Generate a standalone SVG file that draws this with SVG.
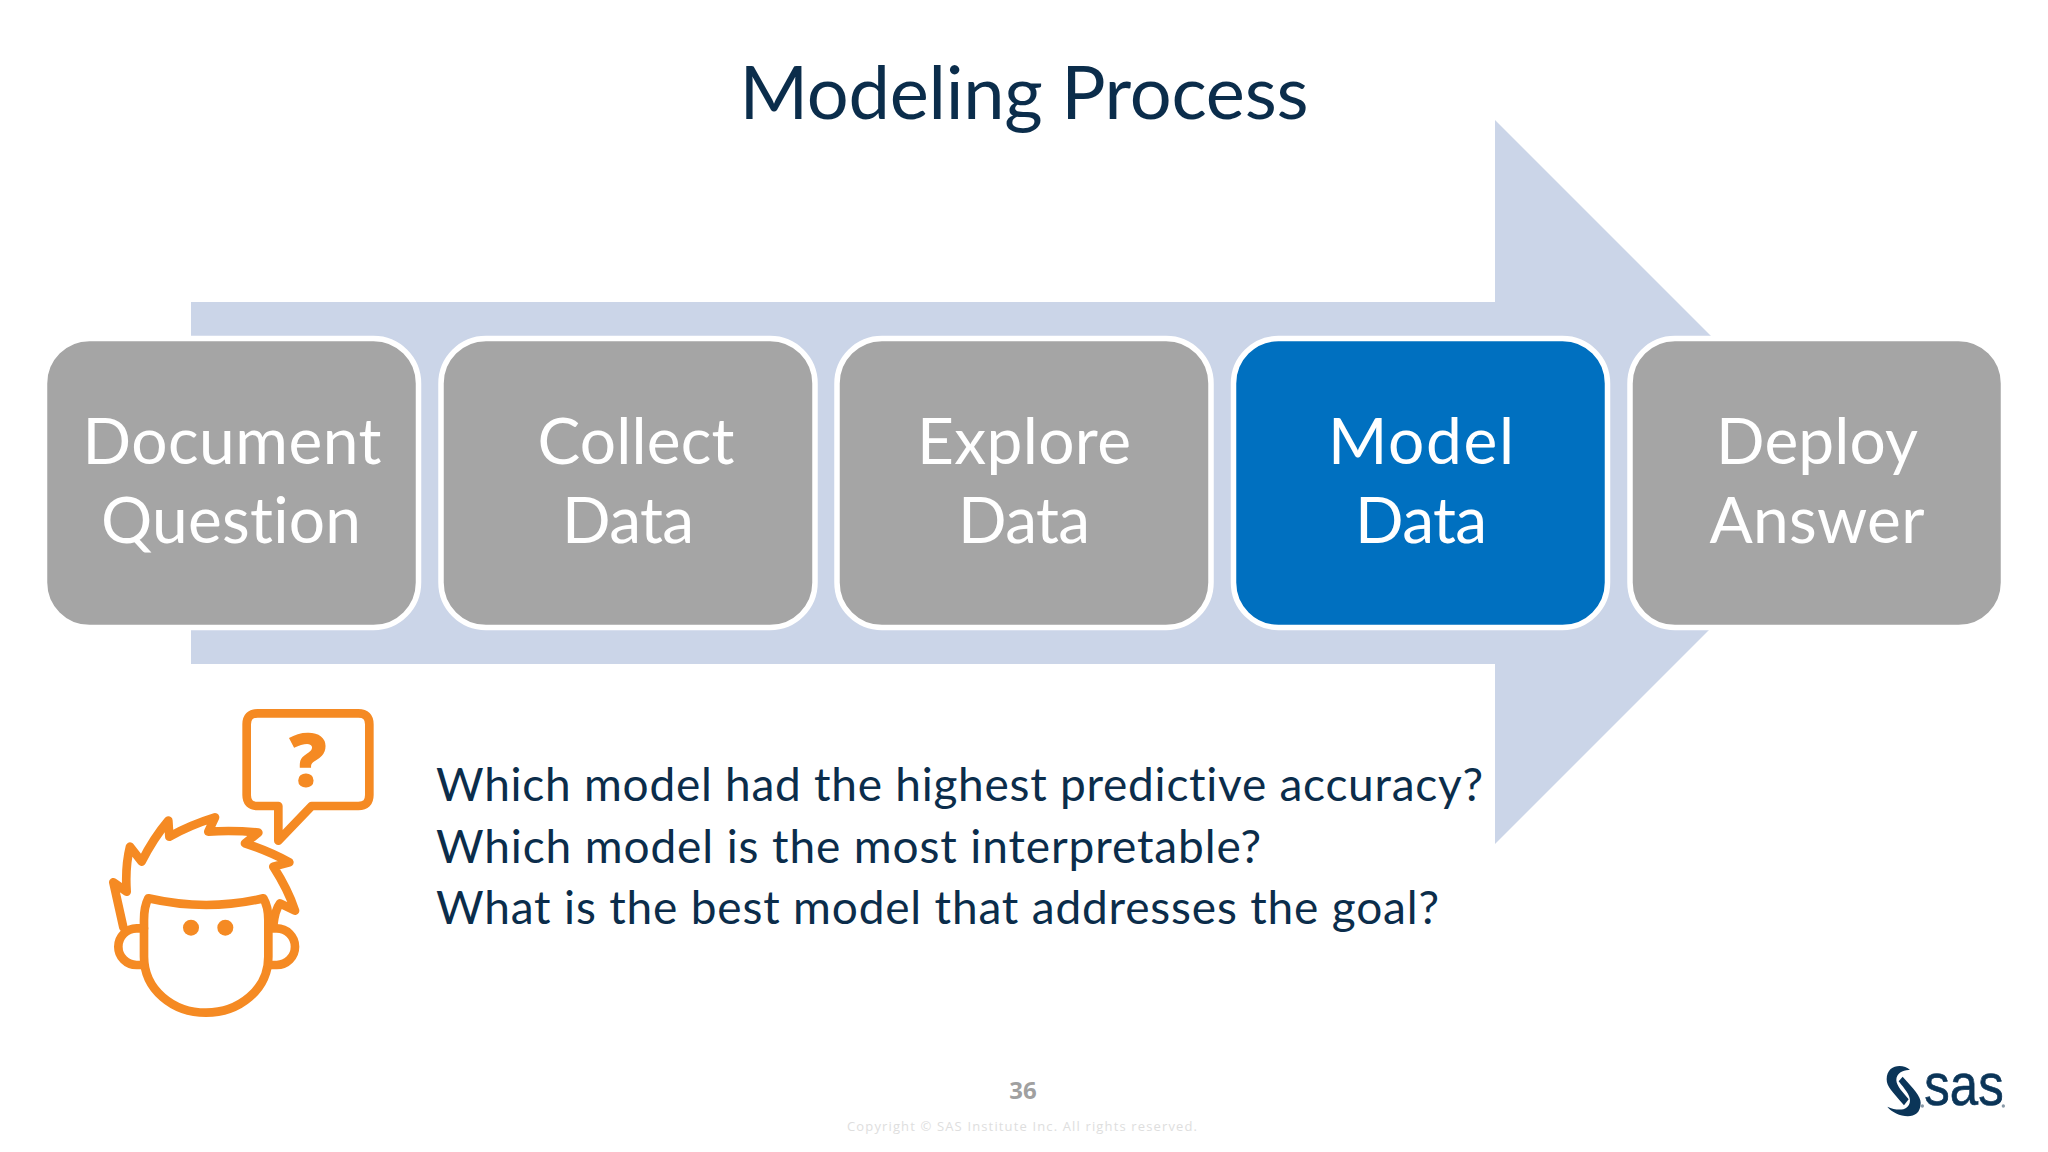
<svg xmlns="http://www.w3.org/2000/svg" width="2048" height="1152" viewBox="0 0 2048 1152">
<style>
text{font-variant-ligatures:none}
.box{fill:#a5a5a5;stroke:#fff;stroke-width:5.5}
.lab{font-family:"Lato","Open Sans",sans-serif;font-size:64px;fill:#fff;text-anchor:middle}
.q{font-family:"Lato","Open Sans",sans-serif;font-size:46px;fill:#0b2d4b}
.or{fill:none;stroke:#f58a23;stroke-width:26;stroke-linejoin:round;stroke-linecap:round}
</style>
<rect width="2048" height="1152" fill="#fff"/>
<text id="title" x="1024" y="119" textLength="569" style="font-family:Lato,'Open Sans',sans-serif;font-size:74px;fill:#0b2d4b;text-anchor:middle">Modeling Process</text>
<g id="connectors"><polygon points="191,302 1495,302 1495,120 1857,482 1495,844 1495,664 191,664" fill="#cbd5e8"/></g>
<g id="n1"><rect class="box" x="44.500" y="338.500" width="374" height="289" rx="45"/><text class="lab" x="232" y="464" textLength="299">Document</text><text class="lab" x="231" y="543" textLength="260">Question</text></g>
<g id="n2"><rect class="box" x="441" y="338.500" width="374" height="289" rx="45"/><text class="lab" x="636" y="464" textLength="197">Collect</text><text class="lab" x="628" y="543" textLength="132">Data</text></g>
<g id="n3"><rect class="box" x="837" y="338.500" width="374" height="289" rx="45"/><text class="lab" x="1024" y="464" textLength="214">Explore</text><text class="lab" x="1024" y="543" textLength="132">Data</text></g>
<g id="n4"><rect class="box" x="1233.500" y="338.500" width="374" height="289" rx="45" style="fill:#0070c0"/><text class="lab" x="1421" y="464" textLength="186">Model</text><text class="lab" x="1421" y="543" textLength="132">Data</text></g>
<g id="n5"><rect class="box" x="1630" y="338.500" width="373.500" height="289" rx="45"/><text class="lab" x="1817" y="464" textLength="202">Deploy</text><text class="lab" x="1817" y="543" textLength="215">Answer</text></g>
<g id="person" transform="translate(80 690) scale(.33333)">
<path class="or" d="M595 348H533Q500 348 500 315V103Q500 70 533 70H835Q868 70 868 103V315Q868 348 835 348H695L595 452Z"/>
<text x="684" y="290" text-anchor="middle" style="font-family:'Open Sans',sans-serif;font-weight:800;font-size:225px;fill:#f58a23">?</text>
<path class="or" d="M130 712L100 577L140 605Q135 530 150 470L185 515Q220 445 265 392L268 440Q330 405 405 382L385 425Q465 420 535 428L495 460Q570 485 628 517L580 530Q625 600 645 662L600 640Q585 660 580 705"/>
<path class="or" d="M192 690V800C192 900 280 968 378 968C476 968 565 900 565 800V690Q565 650 550 625Q380 665 205 625Q192 650 192 690Z"/>
<path class="or" d="M192 715H170A55 55 0 0 0 170 825H192M565 715H590A55 55 0 0 1 590 825H565"/>
<circle cx="333" cy="713" r="24" fill="#f58a23"/><circle cx="436" cy="713" r="24" fill="#f58a23"/>
</g>
<text class="q" x="436" y="801" textLength="1047">Which model had the highest predictive accuracy?</text>
<text class="q" x="436" y="863" textLength="825">Which model is the most interpretable?</text>
<text class="q" x="436" y="924" textLength="1003">What is the best model that addresses the goal?</text>
<text x="1023" y="1099" text-anchor="middle" style="font-family:'Open Sans',sans-serif;font-weight:700;font-size:24px;fill:#a0a0a0">36</text>
<text x="847" y="1131" textLength="350" style="font-family:'Open Sans',sans-serif;font-size:13px;fill:#dedede">Copyright © SAS Institute Inc. All rights reserved.</text>
<g id="logo" fill="#0b3558">
<g transform="translate(1880 1060) scale(.33333)">
<path d="M90 30C70 10 20 12 20 58C20 80 36 94 72 136L86 118C70 98 49 78 49 60C49 38 72 28 90 30Z"/>
<path d="M22 140C45 170 122 190 122 128C122 108 102 88 68 50L56 64C75 88 90 105 90 122C88 152 55 155 22 140Z"/>
</g>
<g transform="translate(1860 1040) scale(.33333)">
<text x="193" y="195" textLength="238" lengthAdjust="spacingAndGlyphs" stroke="#0b3558" stroke-width="2" style="font-family:'Liberation Sans',sans-serif;font-size:180px">sas</text>
<circle cx="187" cy="198" r="5" fill="#8a9aa8"/><circle cx="430" cy="198" r="5" fill="#8a9aa8"/>
</g></g>
</svg>
